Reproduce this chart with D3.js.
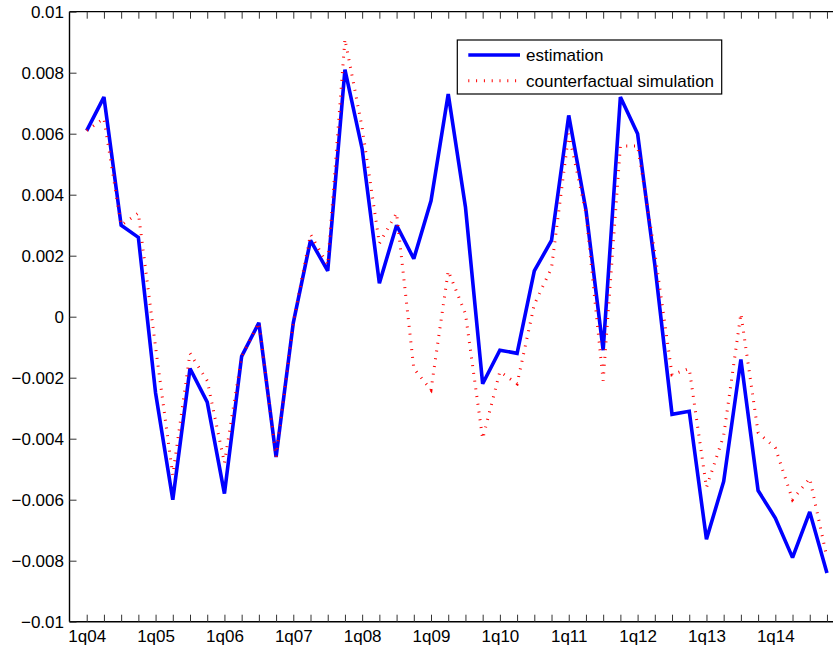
<!DOCTYPE html>
<html>
<head>
<meta charset="utf-8">
<script src="https://cdn.jsdelivr.net/npm/d3@7/dist/d3.min.js"></script>
<style>
  html, body { margin: 0; padding: 0; background: #fff; }
  svg { display: block; }
  text { font-family: "Liberation Sans", Arial, Helvetica, sans-serif; font-size: 17px; fill: #000; }
</style>
</head>
<body>
<svg id="chart" width="833" height="650"></svg>
<script>
// Quarterly observations, 1q04 .. 4q14
const quarters = d3.range(1, 45);

const estimation = [
  0.0061, 0.0072, 0.0030, 0.0026, -0.0025, -0.0060, -0.0017, -0.0028, -0.0058, -0.0013,
  -0.0002, -0.0046, -0.0002, 0.0025, 0.0015, 0.0081, 0.0055, 0.0011, 0.0030, 0.0019,
  0.0038, 0.0073, 0.0036, -0.0022, -0.0011, -0.0012, 0.0015, 0.0025, 0.0066, 0.0035,
  -0.0011, 0.0072, 0.0060, 0.0017, -0.0032, -0.0031, -0.0073, -0.0054, -0.0014, -0.0057,
  -0.0066, -0.0079, -0.0064, -0.0084
];

const counterfactual = [
  0.0061, 0.0065, 0.0030, 0.0034, -0.0010, -0.0052, -0.0012, -0.0021, -0.0048, -0.0013,
  -0.0002, -0.0046, -0.0002, 0.0027, 0.0017, 0.0091, 0.0062, 0.0024, 0.0034, -0.0017,
  -0.0024, 0.0015, 0.0001, -0.0040, -0.0018, -0.0022, 0.0004, 0.0016, 0.0060, 0.0034,
  -0.0021, 0.0056, 0.0056, 0.0021, -0.0019, -0.0017, -0.0056, -0.0039, 0.0001, -0.0038,
  -0.0043, -0.0060, -0.0053, -0.0079
];

const xTickLabels = ["1q04", "1q05", "1q06", "1q07", "1q08", "1q09", "1q10", "1q11", "1q12", "1q13", "1q14"];
const yTicks = [0.01, 0.008, 0.006, 0.004, 0.002, 0, -0.002, -0.004, -0.006, -0.008, -0.01];
const yTickLabels = ["0.01", "0.008", "0.006", "0.004", "0.002", "0", "\u22120.002", "\u22120.004", "\u22120.006", "\u22120.008", "\u22120.01"];
const seriesNames = ["estimation", "counterfactual simulation"];

const svg = d3.select("#chart");
const W = 833, H = 650;
const plotLeft = 69.5, plotTop = 11.7, plotBottom = 621.7, step = 17.215;

const x = d3.scaleLinear().domain([0, 45]).range([plotLeft, plotLeft + 45 * step]);
const y = d3.scaleLinear().domain([-0.01, 0.01]).range([plotBottom, plotTop]);

// axes box (right side falls past the page edge)
const box = svg.append("g");
box.append("line").attr("x1", plotLeft).attr("x2", W).attr("y1", plotTop).attr("y2", plotTop)
  .attr("stroke", "#000").attr("stroke-width", 1.2);
box.append("line").attr("x1", plotLeft).attr("x2", W).attr("y1", plotBottom).attr("y2", plotBottom)
  .attr("stroke", "#000").attr("stroke-width", 1.4);
box.append("line").attr("x1", plotLeft).attr("x2", plotLeft).attr("y1", plotTop).attr("y2", plotBottom)
  .attr("stroke", "#000").attr("stroke-width", 1.4);

// labelled quarters: first quarter of every year
const labelFor = new Map(xTickLabels.map((l, k) => [1 + 4 * k, l]));

const xAxis = d3.axisBottom(x).tickValues(quarters).tickSize(-7).tickSizeOuter(0)
  .tickPadding(8.5).tickFormat(d => labelFor.get(d) || "");
const gx = svg.append("g").attr("transform", `translate(0,${plotBottom})`).call(xAxis);
gx.select(".domain").remove();
gx.selectAll(".tick line").attr("stroke", "#333");
gx.selectAll("text").attr("font-size", 17).attr("font-family", null).attr("fill", "#000");

const xAxisTop = d3.axisTop(x).tickValues(quarters).tickSize(-7).tickSizeOuter(0).tickFormat("");
const gxt = svg.append("g").attr("transform", `translate(0,${plotTop})`).call(xAxisTop);
gxt.select(".domain").remove();
gxt.selectAll(".tick line").attr("stroke", "#333");

const yAxis = d3.axisLeft(y).tickValues(yTicks).tickSize(-7).tickSizeOuter(0)
  .tickPadding(5.5).tickFormat((d, i) => yTickLabels[i]);
const gy = svg.append("g").attr("transform", `translate(${plotLeft},0)`).call(yAxis);
gy.select(".domain").remove();
gy.selectAll(".tick line").attr("stroke", "#333");
gy.selectAll("text").attr("font-size", 17).attr("font-family", null).attr("fill", "#000");

// series
const line = d3.line().x((d, i) => x(quarters[i])).y(d => y(d));

svg.append("path").datum(estimation)
  .attr("d", line).attr("fill", "none")
  .attr("stroke", "#0000ff").attr("stroke-width", 3.6)
  .attr("stroke-linejoin", "miter").attr("stroke-miterlimit", 2);

svg.append("path").datum(counterfactual)
  .attr("d", line).attr("fill", "none")
  .attr("stroke", "#ff0000").attr("stroke-width", 3)
  .attr("stroke-dasharray", "1,6.8");

// legend
const lg = svg.append("g");
lg.append("rect").attr("x", 457.3).attr("y", 40).attr("width", 264.4).attr("height", 54)
  .attr("fill", "#fff").attr("stroke", "#000").attr("stroke-width", 1.2);
lg.append("line").attr("x1", 468.3).attr("x2", 520).attr("y1", 55).attr("y2", 55)
  .attr("stroke", "#0000ff").attr("stroke-width", 3.6);
lg.append("line").attr("x1", 468.3).attr("x2", 520).attr("y1", 80.7).attr("y2", 80.7)
  .attr("stroke", "#ff0000").attr("stroke-width", 3).attr("stroke-dasharray", "1,6.8");
lg.append("text").attr("x", 526).attr("y", 55).attr("dy", "0.35em").text(seriesNames[0]);
lg.append("text").attr("x", 526).attr("y", 80.7).attr("dy", "0.35em").text(seriesNames[1]);
</script>
</body>
</html>
